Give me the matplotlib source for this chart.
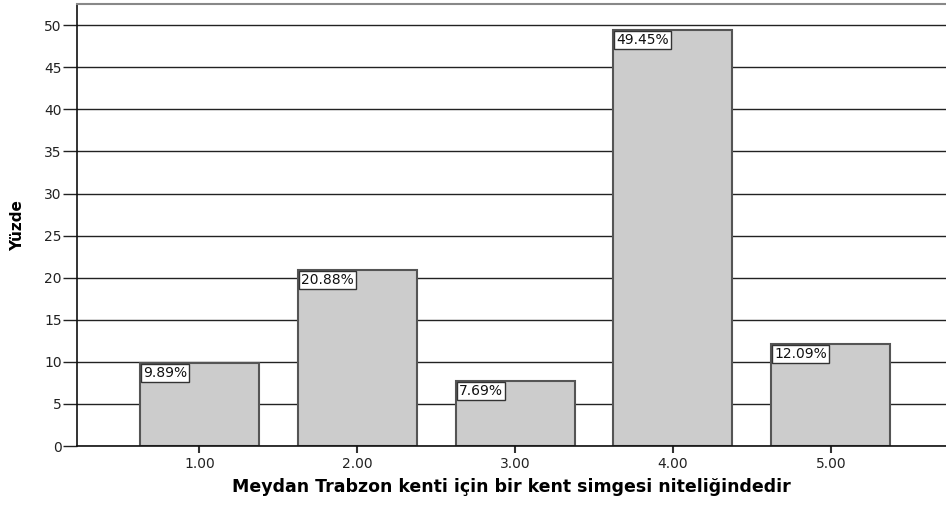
import matplotlib
matplotlib.use("Agg")
import matplotlib.pyplot as plt

# values
categories = [1.0, 2.0, 3.0, 4.0, 5.0]
tick_labels = ["1.00", "2.00", "3.00", "4.00", "5.00"]
percents = [9.89, 20.88, 7.69, 49.45, 12.09]
y_ticks = [0, 5, 10, 15, 20, 25, 30, 35, 40, 45, 50]

plt.rcParams['font.family'] = ['DejaVu Sans']

fig = plt.figure(figsize=(9.46, 5.05), dpi=100)
ax = fig.add_axes([0.0814, 0.1168, 0.9186, 0.875])

bar_w = 0.754
ax.set_axisbelow(True)
ax.yaxis.grid(True, color="#222222", linewidth=1.0)
ax.bar(categories, percents, width=bar_w, color="#cccccc",
       edgecolor="#555555", linewidth=1.5, zorder=2)

for x, v in zip(categories, percents):
    ax.annotate("%.2f%%" % v, xy=(x - bar_w / 2, v), xytext=(2.2, -2.2),
                textcoords="offset points", ha="left", va="top",
                fontsize=10, color="#111111", zorder=3,
                bbox=dict(boxstyle="square,pad=0.15", fc="white",
                          ec="#333333", lw=1.0))

ax.set_xlim(0.224, 5.73)
ax.set_ylim(0, 52.5)
ax.set_xticks(categories)
ax.set_xticklabels(tick_labels, fontsize=10, color="#222222")
ax.set_yticks(y_ticks)
ax.set_yticklabels([str(t) for t in y_ticks], fontsize=10, color="#222222")
ax.tick_params(axis="y", length=10, width=1, color="#222222", pad=1)
ax.tick_params(axis="x", length=5, width=1.5, color="#333333", pad=3)

ax.spines["left"].set_color("#111111")
ax.spines["left"].set_linewidth(1.2)
ax.spines["bottom"].set_color("#111111")
ax.spines["bottom"].set_linewidth(1.2)
ax.spines["top"].set_color("#888888")
ax.spines["top"].set_linewidth(1.5)
ax.spines["right"].set_visible(False)

ax.set_xlabel("Meydan Trabzon kenti için bir kent simgesi niteliğindedir",
              fontsize=12.5, fontweight="bold", labelpad=5)
ax.set_ylabel("Yüzde", fontsize=11, fontweight="bold", labelpad=14)

fig.savefig("out.png", dpi=100)
